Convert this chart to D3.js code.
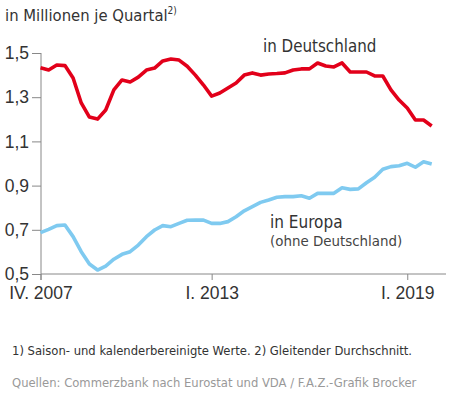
<!DOCTYPE html>
<html>
<head>
<meta charset="utf-8">
<script src="https://cdnjs.cloudflare.com/ajax/libs/d3/7.8.4/d3.min.js"></script>
<style>
  html, body { margin: 0; padding: 0; background: #fff; }
  svg { display: block; font-family: "DejaVu Sans Condensed", "Liberation Sans Narrow", sans-serif; }
</style>
</head>
<body>
<div id="chart"></div>
<script>
// quarters from IV. 2007 to IV. 2019 (index 0 = IV. 2007)
const quarters = d3.range(49);

// car registrations in Germany, million per quarter
const deutschland = [
  1.433, 1.423, 1.446, 1.443, 1.387, 1.274, 1.210, 1.201, 1.242, 1.333,
  1.378, 1.369, 1.391, 1.423, 1.432, 1.464, 1.473, 1.468, 1.440, 1.400,
  1.355, 1.305, 1.319, 1.342, 1.364, 1.400, 1.410, 1.400, 1.405, 1.407,
  1.410, 1.423, 1.428, 1.428, 1.455, 1.441, 1.437, 1.455, 1.414, 1.414,
  1.414, 1.396, 1.396, 1.333, 1.287, 1.251, 1.197, 1.197, 1.170
];

// Europe without Germany
const europa = [
  0.687, 0.702, 0.719, 0.722, 0.669, 0.601, 0.545, 0.518, 0.536, 0.567,
  0.589, 0.601, 0.631, 0.669, 0.699, 0.719, 0.714, 0.729, 0.743, 0.744,
  0.744, 0.729, 0.729, 0.737, 0.759, 0.786, 0.805, 0.824, 0.835, 0.847,
  0.850, 0.850, 0.854, 0.843, 0.865, 0.865, 0.865, 0.890, 0.883, 0.885,
  0.913, 0.938, 0.974, 0.986, 0.990, 1.001, 0.983, 1.008, 0.998
];

const yTicks = [0.5, 0.7, 0.9, 1.1, 1.3, 1.5];
const xTicks = [0, 21, 45];
const xTickLabels = ["IV. 2007", "I. 2013", "I. 2019"];

const W = 449, H = 396;
const svg = d3.select("#chart").append("svg")
  .attr("width", W).attr("height", H);

const x = d3.scaleLinear().domain([0, 48]).range([40.5, 431.7]);
const y = d3.scaleLinear().domain([0.5, 1.5]).range([274, 53]);

// title
const title = svg.append("text")
  .attr("x", 5).attr("y", 21)
  .attr("fill", "#333")
  .style("font-size", "16.5px")
  .text("in Millionen je Quartal");
title.append("tspan")
  .attr("dy", -7)
  .style("font-size", "10px")
  .text("2)");

// y axis
const yAxis = svg.append("g")
  .attr("transform", "translate(41,0)")
  .call(d3.axisLeft(y).tickValues(yTicks).tickSize(9).tickPadding(3)
    .tickFormat(d => d3.format(".1f")(d).replace(".", ",")));
yAxis.select(".domain").remove();
yAxis.append("line")
  .attr("x1", 0).attr("x2", 0)
  .attr("y1", y(1.5)).attr("y2", y(0.5) + 6)
  .attr("stroke", "#888");

// x axis
const xAxis = svg.append("g")
  .attr("transform", `translate(0,${y(0.5)})`)
  .call(d3.axisBottom(x).tickValues(xTicks).tickSize(6).tickPadding(7)
    .tickFormat((d, i) => xTickLabels[i]));
xAxis.select(".domain").remove();
xAxis.append("line")
  .attr("x1", 41).attr("x2", 446)
  .attr("stroke", "#888");

svg.selectAll(".tick line").attr("stroke", "#888");
svg.selectAll(".tick text")
  .attr("fill", "#333")
  .style("font-size", "17.5px")
  .style("font-family", "inherit");

// lines
const line = d3.line()
  .x((d, i) => x(quarters[i]))
  .y(d => y(d));

svg.append("path")
  .datum(europa)
  .attr("fill", "none")
  .attr("stroke", "#7fcaf0")
  .attr("stroke-width", 3.6)
  .attr("stroke-linejoin", "round")
  .attr("d", line);

svg.append("path")
  .datum(deutschland)
  .attr("fill", "none")
  .attr("stroke", "#e2001a")
  .attr("stroke-width", 3.6)
  .attr("stroke-linejoin", "round")
  .attr("d", line);

// series labels
svg.append("text")
  .attr("x", 263).attr("y", 52)
  .attr("fill", "#333")
  .style("font-size", "16.8px")
  .text("in Deutschland");

svg.append("text")
  .attr("x", 270).attr("y", 228)
  .attr("fill", "#333")
  .style("font-size", "17px")
  .text("in Europa");

svg.append("text")
  .attr("x", 270).attr("y", 246)
  .attr("fill", "#444")
  .style("font-size", "14.9px")
  .text("(ohne Deutschland)");

// footnotes
svg.append("text")
  .attr("x", 12).attr("y", 355)
  .attr("fill", "#333")
  .style("font-size", "12.9px")
  .text("1) Saison- und kalenderbereinigte Werte. 2) Gleitender Durchschnitt.");

svg.append("text")
  .attr("x", 12).attr("y", 387)
  .attr("fill", "#999")
  .style("font-size", "12.9px")
  .text("Quellen: Commerzbank nach Eurostat und VDA / F.A.Z.-Grafik Brocker");
</script>
</body>
</html>
